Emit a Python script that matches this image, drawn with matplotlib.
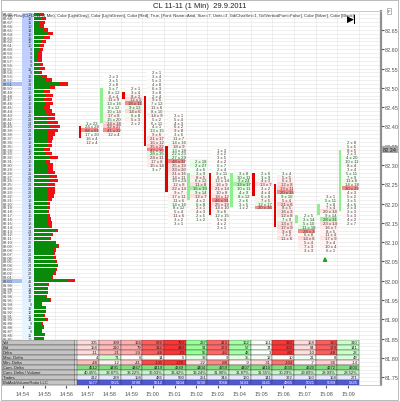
import matplotlib
matplotlib.use("Agg")
import matplotlib.pyplot as plt
from matplotlib.patches import Rectangle
from matplotlib.ticker import MultipleLocator
import numpy as np

plt.rcParams['font.family'] = ['Liberation Sans', 'DejaVu Sans']

title = "CL 11-11 (1 Min)  29.9.2011"
header = ("OrderFlow(CL 11-11 (1 Min), Color [LightGray], Color [LightGreen], Color [Red], True, "
          "[Font: Name=Arial, Size=7, Units=3, GdiCharSet=1, GdiVerticalFont=False], "
          "Color [Silver], Color [Black])")

# minute bars
minutes = ['14:57', '14:58', '14:59', '15:00', '15:01', '15:02', '15:03',
           '15:04', '15:05', '15:06', '15:07', '15:08', '15:09']
axis_times = ['14:54', '14:55', '14:56'] + minutes
opens = [82.40, 82.41, 82.49, 82.48, 82.35, 82.21, 82.28, 82.19, 82.28, 82.25, 82.15, 82.17, 82.18]
closes = [82.37, 82.50, 82.47, 82.35, 82.23, 82.28, 82.17, 82.28, 82.22, 82.14, 82.17, 82.20, 82.34]
highs = [82.41, 82.53, 82.50, 82.54, 82.43, 82.31, 82.34, 82.28, 82.28, 82.28, 82.17, 82.22, 82.36]

# bid x ask per price, from the high down
footprint = [
    [(1, 23), (24, 28), (88, 68), (17, 20), (16, 4), (12, 4)],
    [(2, 3), (3, 5), (2, 8), (5, 7), (8, 12), (6, 4), (11, 9), (13, 16), (9, 12), (10, 14),
     (17, 8), (15, 20), (24, 18), (32, 27), (41, 22), (12, 4)],
    [(2, 1), (3, 4), (8, 2), (12, 5), (18, 11), (9, 13), (14, 6), (6, 8), (5, 3), (2, 2)],
    [(2, 1), (3, 4), (5, 3), (4, 8), (6, 3), (3, 8), (2, 4), (9, 5), (7, 12), (11, 6), (8, 10),
     (14, 9), (5, 2), (6, 11), (4, 1), (13, 15), (9, 6), (21, 17), (16, 12), (35, 22), (42, 30),
     (28, 35), (24, 11), (17, 8), (15, 14), (3, 7)],
    [(3, 1), (5, 4), (4, 3), (6, 2), (9, 8), (3, 6), (11, 7), (14, 16), (18, 9), (13, 18),
     (22, 23), (27, 29), (48, 37), (25, 19), (33, 20), (21, 16), (14, 11), (19, 24), (12, 8),
     (22, 14), (9, 7), (17, 11), (11, 6), (14, 16), (8, 12), (5, 4), (11, 6), (3, 2), (3, 1)],
    [(2, 18), (2, 27), (4, 6), (3, 9), (8, 5), (6, 12), (11, 8), (15, 19), (9, 14), (12, 7),
     (4, 2), (6, 8), (2, 1), (4, 3), (2, 5), (1, 2)],
    [(1, 3), (2, 2), (3, 5), (4, 2), (6, 7), (2, 4), (9, 11), (8, 5), (12, 14), (16, 9),
     (21, 14), (10, 8), (18, 12), (46, 31), (25, 19), (14, 10), (9, 6), (12, 15), (5, 4),
     (4, 2), (2, 1)],
    [(3, 8), (10, 11), (3, 24), (13, 17), (10, 11), (4, 9), (8, 12), (2, 6), (3, 5), (1, 2)],
    [(2, 6), (3, 9), (4, 3), (13, 7), (3, 2), (4, 4), (6, 8), (7, 5), (12, 17), (20, 16)],
    [(3, 4), (5, 5), (6, 3), (12, 8), (19, 11), (20, 14), (9, 10), (5, 4), (21, 6), (8, 5),
     (16, 3), (12, 8), (7, 9), (13, 7), (17, 9), (9, 6), (7, 2), (11, 6)],
    [(2, 5), (3, 14), (5, 10), (11, 18), (28, 3), (6, 8), (14, 6), (5, 4), (7, 3), (3, 3)],
    [(3, 1), (5, 11), (7, 8), (7, 4), (20, 14), (9, 14), (28, 31), (23, 14), (16, 7), (8, 5),
     (11, 4), (17, 9), (9, 4), (10, 4), (6, 1)],
    [(2, 8), (5, 6), (8, 5), (2, 3), (4, 20), (10, 11), (8, 4), (3, 4), (5, 11), (7, 9),
     (11, 6), (14, 18), (30, 29), (4, 3), (5, 2), (3, 5), (4, 6), (2, 4), (3, 3), (5, 3),
     (4, 2), (2, 7)],
]

# session volume profile (top price 82.69, one row per tick)
profile_top = 82.69
profile_buy = [60, 80, 60, 60, 100, 140, 100, 80, 60, 60,
               40, 40, 40, 60, 60, 50, 80, 110, 260, 160,
               90, 110, 90, 110, 90, 110, 140, 130, 140, 160,
               140, 130, 130, 130, 130, 90, 110, 160, 110, 130,
               130, 140, 160, 160, 140, 130, 140, 140, 130, 130,
               130, 130, 140, 140, 140, 160, 210, 180, 160, 210,
               230, 190, 190, 190, 210, 230, 210, 200, 180, 340,
               140, 130, 130, 110, 160, 80, 110, 110, 90, 110,
               80, 90, 80, 110, 100]
profile_sell = [40, 40, 50, 40, 40, 50, 60, 40, 40, 30,
                40, 40, 40, 30, 50, 30, 50, 70, 80, 50,
                70, 80, 90, 80, 70, 70, 70, 80, 100, 100,
                100, 80, 60, 50, 50, 70, 70, 80, 50, 60,
                60, 70, 70, 80, 70, 80, 70, 60, 50, 30,
                30, 20, 20, 30, 40, 20, 30, 10, 10, 10,
                20, 30, 20, 30, 20, 10, 20, 20, 10, 70,
                10, 10, 10, 20, 10, 0, 10, 10, 20, 30,
                10, 10, 0, 0, 0]

# statistics table
table_labels = ["Vol", "Bid", "Delta", "Max. Delta", "Min. Delta", "Cum. Delta",
                "Cum. Delta / Volume", "Trades", "BidAskVolumeRatio LLC"]
max_delta = [4, 71, 6, 14, 5, 38, 9, 35, 12, 10, 21, 8, 49]
min_delta = [-48, -12, -41, -135, -270, -22, -88, -9, -31, -104, -7, -36, -14]
cum_delta_start = 4523
cum_vol_start = 10850
trades = [212, 238, 104, 486, 590, 251, 344, 160, 141, 372, 150, 158, 271]
llc_ratio = [5677, 5821, 5790, 5512, 5104, 5230, 5068, 5193, 5141, 4955, 5021, 5089, 5325]

fig = plt.figure(figsize=(4.0, 4.02), dpi=100)
W, H = 400, 402
left_px, right_px, top_px, bot_px = 2, 381, 12, 386


def frect(x0, y0, x1, y1):
    return [x0 / W, 1 - y1 / H, (x1 - x0) / W, (y1 - y0) / H]


ax = fig.add_axes(frect(left_px, top_px, right_px, bot_px))
xmin, xmax = (left_px - 88) / 21.67, (right_px - 88) / 21.67
ax.set_xlim(xmin, xmax)
ax.set_ylim(81.730, 82.699)
ax.yaxis.set_major_locator(MultipleLocator(0.05))
ax.yaxis.set_minor_locator(MultipleLocator(0.01))
ax.yaxis.tick_right()
ax.yaxis.set_major_formatter(plt.FuncFormatter(lambda v, p: f"{v:.2f}"))
ax.tick_params(axis='y', which='major', labelsize=4, length=2, pad=1, colors='#555555')
ax.tick_params(axis='y', which='minor', length=0)
ax.set_xticks(np.arange(len(axis_times)) - 3)
ax.set_xticklabels(axis_times)
ax.set_xticks(np.arange(-3.5, 13.6, 1.0), minor=True)
ax.tick_params(axis='x', which='major', labelsize=4, length=2, pad=2, colors='#555555')
ax.tick_params(axis='x', which='minor', length=0)
ax.grid(which='minor', axis='both', color='#e4e4e4', lw=0.4)
ax.grid(which='major', axis='y', color='#e4e4e4', lw=0.4)
for s in ['left', 'top', 'bottom']:
    ax.spines[s].set_color('#c0c0c0')
    ax.spines[s].set_linewidth(0.6)
ax.spines['right'].set_color('#909090')
ax.spines['right'].set_linewidth(1.6)

# footprint cells and candles
for i in range(len(minutes)):
    cells = footprint[i]
    tot = [b + a for b, a in cells]
    vmax = max(tot)
    for k, (b, a) in enumerate(cells):
        p = highs[i] - 0.01 * k
        strength = (b + a) / vmax
        if b + a == vmax:
            col = (0.96, 0.55, 0.55) if b >= a else (0.68, 0.92, 0.68)
        elif b >= a:
            col = (1, 1 - 0.22 * strength, 1 - 0.22 * strength)
        else:
            col = (1 - 0.16 * strength, 1, 1 - 0.16 * strength)
        ax.add_patch(Rectangle((i - 0.3, p - 0.005), 0.78, 0.01, facecolor=col,
                               edgecolor='none', zorder=2))
        ax.text(i + 0.18, p, f"{b} x {a}", ha='center', va='center', fontsize=3.1,
                color='#404040', zorder=3)
    lo, hi = min(opens[i], closes[i]), max(opens[i], closes[i])
    ccol = '#90ee90' if closes[i] >= opens[i] else '#e00000'
    ax.bar(i - 0.37, hi - lo, bottom=lo, width=0.13, color=ccol, zorder=4)

# green arrow under 15:08
arrow_bar = 11
low_08 = highs[arrow_bar] - 0.01 * (len(footprint[arrow_bar]) - 1)
ax.annotate('', xy=(arrow_bar - 0.06, low_08 - 0.01), xytext=(arrow_bar - 0.06, low_08 - 0.035),
            arrowprops=dict(arrowstyle='-|>', color='#1aa51a', lw=1.2, mutation_scale=5), zorder=5)

# profile price labels and volume numbers
prof_prices = [profile_top - 0.01 * k for k in range(len(profile_buy))]
prof_tot = [b + s for b, s in zip(profile_buy, profile_sell)]
poc_level = 0.8 * max(prof_tot)
for k, p in enumerate(prof_prices):
    shade = 0.78 + 0.18 * k / len(prof_prices)
    ax.add_patch(Rectangle((-3.05, p - 0.005), 0.5, 0.01, facecolor=(shade - 0.05, shade + 0.01, 1.0),
                           edgecolor='none', zorder=2))
    if prof_tot[k] >= poc_level:
        ax.add_patch(Rectangle((xmin, p - 0.005), 0.92, 0.01, facecolor='#a8c0f0',
                               edgecolor='none', zorder=2))
    ax.text(xmin + 0.05, p, f"{p:.2f}", ha='left', va='center', fontsize=2.8, color='#404040', zorder=3)
    ax.text(-2.57, p, f"{prof_tot[k] // 10}", ha='right', va='center', fontsize=2.8,
            color='#404040', zorder=3)

# current price marker on the right axis
ax.annotate(f"{closes[-1]:.2f}", xy=(1, closes[-1]), xycoords=ax.get_yaxis_transform(),
            xytext=(1.5, 0), textcoords='offset points', ha='left', va='center', fontsize=4,
            color='#202020', bbox=dict(boxstyle='square,pad=0.15', fc='#a8a8a8', ec='none'),
            annotation_clip=False, zorder=6)

# volume profile bars
axp = fig.add_axes(frect(34, top_px, 80, bot_px))
axp.set_xlim(0, 460)
axp.set_ylim(ax.get_ylim())
axp.barh(prof_prices, profile_buy, height=0.0085, color='#0a8a0a', zorder=2)
axp.barh(prof_prices, profile_sell, left=profile_buy, height=0.0085, color='#ee1111', zorder=2)
axp.axis('off')
axp.patch.set_alpha(0)

# statistics table
axt = fig.add_axes(frect(left_px, 341, right_px, bot_px))
axt.set_xlim(xmin, xmax)
axt.set_ylim(len(table_labels), 0)
axt.axis('off')

vols = [sum(b + a for b, a in c) for c in footprint]
bids = [sum(b for b, a in c) for c in footprint]
deltas = [sum(a - b for b, a in c) for c in footprint]
cum = np.cumsum(deltas) + cum_delta_start
cum_vol = np.cumsum(vols) + cum_vol_start


def shade_col(v, scale):
    a = min(1.0, abs(v) / scale)
    if v < 0:
        return (1, 1 - 0.8 * a, 1 - 0.8 * a)
    return (1 - 0.45 * a, 1, 1 - 0.45 * a)


for r, lab in enumerate(table_labels):
    axt.add_patch(Rectangle((xmin, r), -0.6 - xmin, 1, facecolor='#c4c4c4',
                            edgecolor='#404040', lw=0.3))
    axt.text(xmin + 0.05, r + 0.5, lab, ha='left', va='center', fontsize=3, color='#202020')
    axt.add_patch(Rectangle((-0.6, r), 0.1, 1, facecolor='white', edgecolor='#404040', lw=0.3))
    for i in range(len(minutes)):
        if r == 0:
            val, fc = vols[i], shade_col(deltas[i], 60)
        elif r == 1:
            val, fc = bids[i], shade_col(deltas[i], 60)
        elif r == 2:
            val, fc = deltas[i], shade_col(deltas[i], 60)
        elif r == 3:
            val, fc = max_delta[i], shade_col(max_delta[i], 150)
        elif r == 4:
            val, fc = min_delta[i], shade_col(min_delta[i], 150)
        elif r == 5:
            val, fc = int(cum[i]), '#7fdf7f'
        elif r == 6:
            val, fc = f"{100 * cum[i] / cum_vol[i]:.2f}%", '#c8f2c8'
        elif r == 7:
            val, fc = trades[i], '#e4e8ff'
        else:
            val, fc = llc_ratio[i], '#5058d8'
        axt.add_patch(Rectangle((i - 0.5, r), 1, 1, facecolor=fc, edgecolor='#404040', lw=0.3))
        axt.text(i + 0.45, r + 0.5, f"{val}", ha='right', va='center', fontsize=3,
                 color='white' if r == 8 else '#202020')

# header, title, icons, frame
fig.text(0.5, 1 - 7 / H, title, ha='center', va='center', fontsize=5.5, color='#202020')
fig.text(3 / W, 1 - 15.5 / H, header, ha='left', va='center', fontsize=3.05, color='#303030', zorder=10)
fig.text(352 / W, 1 - 19 / H, "\u25B6|", ha='center', va='center', fontsize=6.5,
         fontweight='bold', color='black', family='DejaVu Sans', zorder=10)
fig.text(389 / W, 1 - 12 / H, "F", ha='center', va='center', fontsize=3, color='#404040',
         bbox=dict(boxstyle='square,pad=0.2', fc='white', ec='#808080', lw=0.4), zorder=10)
fig.patches.append(Rectangle((0.002, 0.002), 0.993, 0.996, transform=fig.transFigure,
                             fill=False, edgecolor='#b0b0b0', lw=0.6))

fig.savefig("out.png", dpi=100)
